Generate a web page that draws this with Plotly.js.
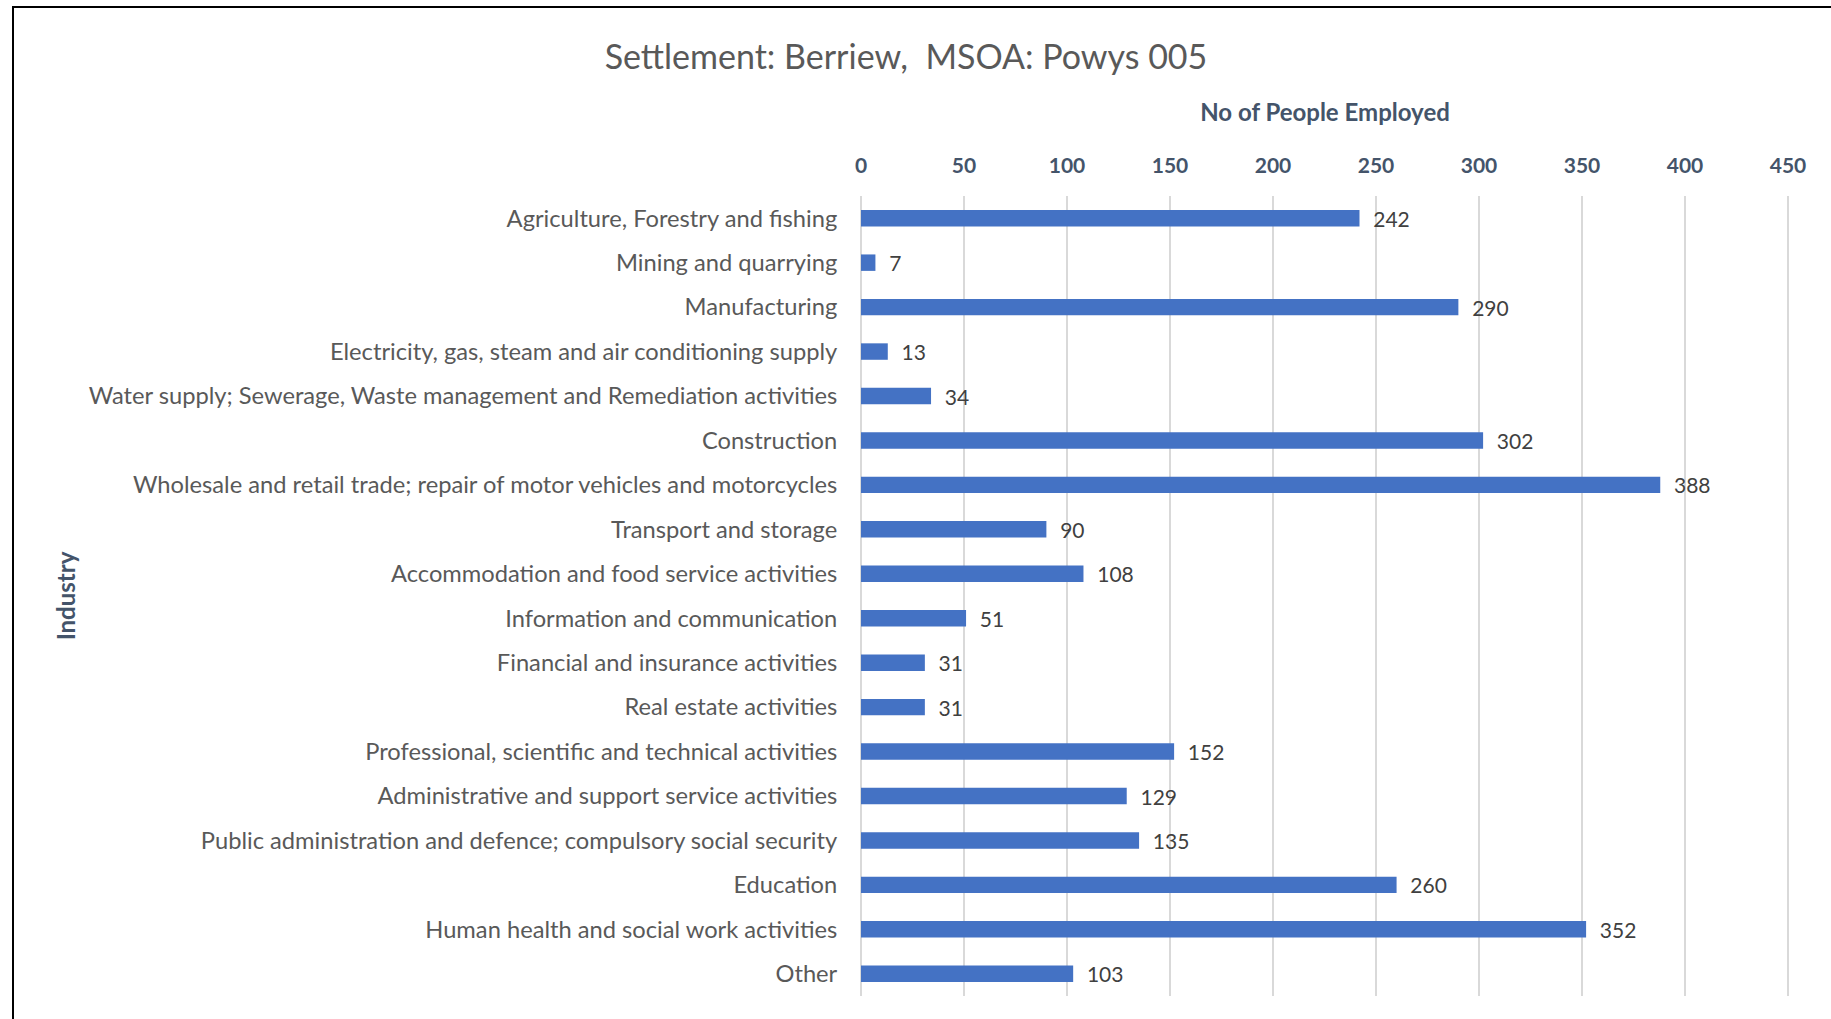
<!DOCTYPE html>
<html>
<head>
<meta charset="utf-8">
<script src="https://cdn.plot.ly/plotly-3.0.1.min.js"></script>
<style>
  html, body { margin: 0; padding: 0; background: #ffffff; }
  #chart { width: 1831px; height: 1019px; }
  #frame { position: absolute; left: 12px; top: 6px; width: 1840px; height: 1040px;
           border-top: 2px solid #000; border-left: 2px solid #000; pointer-events: none; }
</style>
</head>
<body>
<div id="chart"></div>
<div id="frame"></div>
<script>
const categories = [
  "Agriculture, Forestry and fishing",
  "Mining and quarrying",
  "Manufacturing",
  "Electricity, gas, steam and air conditioning supply",
  "Water supply; Sewerage, Waste management and Remediation activities",
  "Construction",
  "Wholesale and retail trade; repair of motor vehicles and motorcycles",
  "Transport and storage",
  "Accommodation and food service activities",
  "Information and communication",
  "Financial and insurance activities",
  "Real estate activities",
  "Professional, scientific and technical activities",
  "Administrative and support service activities",
  "Public administration and defence; compulsory social security",
  "Education",
  "Human health and social work activities",
  "Other"
];
const employed = [242, 7, 290, 13, 34, 302, 388, 90, 108, 51, 31, 31, 152, 129, 135, 260, 352, 103];
const xTickValues = [0, 50, 100, 150, 200, 250, 300, 350, 400, 450];

const FONT = "Lato, 'Open Sans', sans-serif";

const trace = {
  type: "bar",
  orientation: "h",
  y: categories,
  x: employed,
  marker: { color: "#4472C4" },
  text: employed.map(String),
  texttemplate: "\u00a0\u00a0%{x}",
  textposition: "outside",
  constraintext: "none",
  cliponaxis: false,
  textfont: { family: FONT, size: 21, color: "#404040" },
  hoverinfo: "x+y"
};

const layout = {
  width: 1831,
  height: 1019,
  margin: { l: 861, r: 42, t: 196, b: 23 },
  paper_bgcolor: "#ffffff",
  plot_bgcolor: "#ffffff",
  bargap: 0.63,
  showlegend: false,
  font: { family: FONT, color: "#595959" },
  title: {
    text: "Settlement: Berriew,  MSOA: Powys 005",
    font: { family: FONT, size: 34, color: "#595959" },
    xref: "container", yref: "container",
    x: 0.4948, xanchor: "center",
    y: 0.944, yanchor: "middle"
  },
  xaxis: {
    side: "top",
    range: [0, 450.5],
    tickvals: xTickValues,
    ticktext: xTickValues.map(String),
    showgrid: true,
    gridcolor: "#D9D9D9",
    gridwidth: 1.5,
    zeroline: true,
    zerolinecolor: "#D9D9D9",
    zerolinewidth: 1.5,
    showline: false,
    ticks: "outside",
    ticklen: 14,
    tickcolor: "rgba(0,0,0,0)",
    tickfont: { family: FONT, size: 21, color: "#44546A", weight: "bold" },
    title: {
      text: "<b>No of People Employed</b>",
      font: { family: FONT, size: 24, color: "#44546A" },
      standoff: 23
    },
    fixedrange: true
  },
  yaxis: {
    type: "category",
    autorange: "reversed",
    showgrid: false,
    zeroline: false,
    showline: false,
    ticks: "outside",
    ticklen: 18,
    tickcolor: "rgba(0,0,0,0)",
    tickfont: { family: FONT, size: 23.7, color: "#595959" },
    title: {
      text: "<b>Industry</b>",
      font: { family: FONT, size: 24, color: "#44546A" },
      standoff: 6
    },
    fixedrange: true
  }
};

Plotly.newPlot("chart", [trace], layout, { displayModeBar: false, staticPlot: true });
</script>
</body>
</html>
